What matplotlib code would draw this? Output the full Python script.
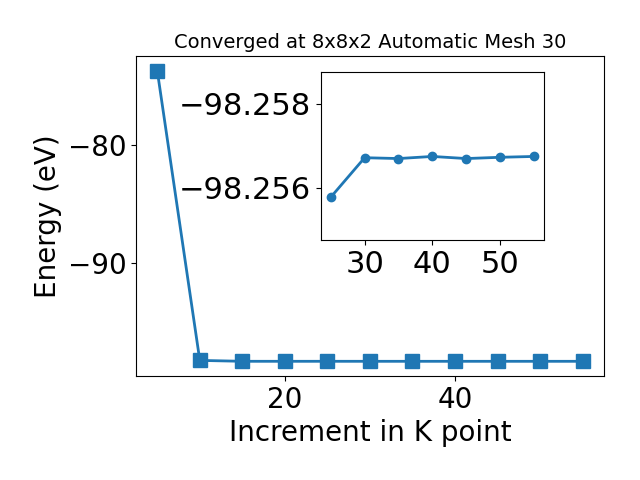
import matplotlib
matplotlib.use("Agg")
import matplotlib.pyplot as plt

kpoints = [5, 10, 15, 20, 25, 30, 35, 40, 45, 50, 55]
energy = [-73.73, -98.18, -98.2558, -98.2567, -98.2558, -98.2567, -98.2567,
          -98.2567, -98.2567, -98.2567, -98.2567]

inset_k = [25, 30, 35, 40, 45, 50, 55]
inset_e = [-98.25577, -98.25671, -98.25669, -98.25674, -98.25669, -98.25672, -98.25674]

fig = plt.figure(figsize=(6.4, 4.8), dpi=100)
ax = fig.add_axes([0.2125, 0.217, 0.731, 0.666])
ax.plot(kpoints, energy, marker='s', markersize=10, linewidth=2)
ax.set_title('Converged at 8x8x2 Automatic Mesh 30', fontsize=14)
ax.set_xlabel('Increment in K point', fontsize=20)
ax.set_ylabel('Energy (eV)', fontsize=20)
ax.tick_params(labelsize=20)

ins = fig.add_axes([0.501, 0.5, 0.349, 0.349])
ins.plot(inset_k, inset_e, marker='o', linewidth=2)
ins.set_ylim(-98.25475, -98.25874)
ins.set_yticks([-98.258, -98.256])
ins.ticklabel_format(axis='y', useOffset=False)
ins.tick_params(labelsize=22)

fig.savefig('out.png')
